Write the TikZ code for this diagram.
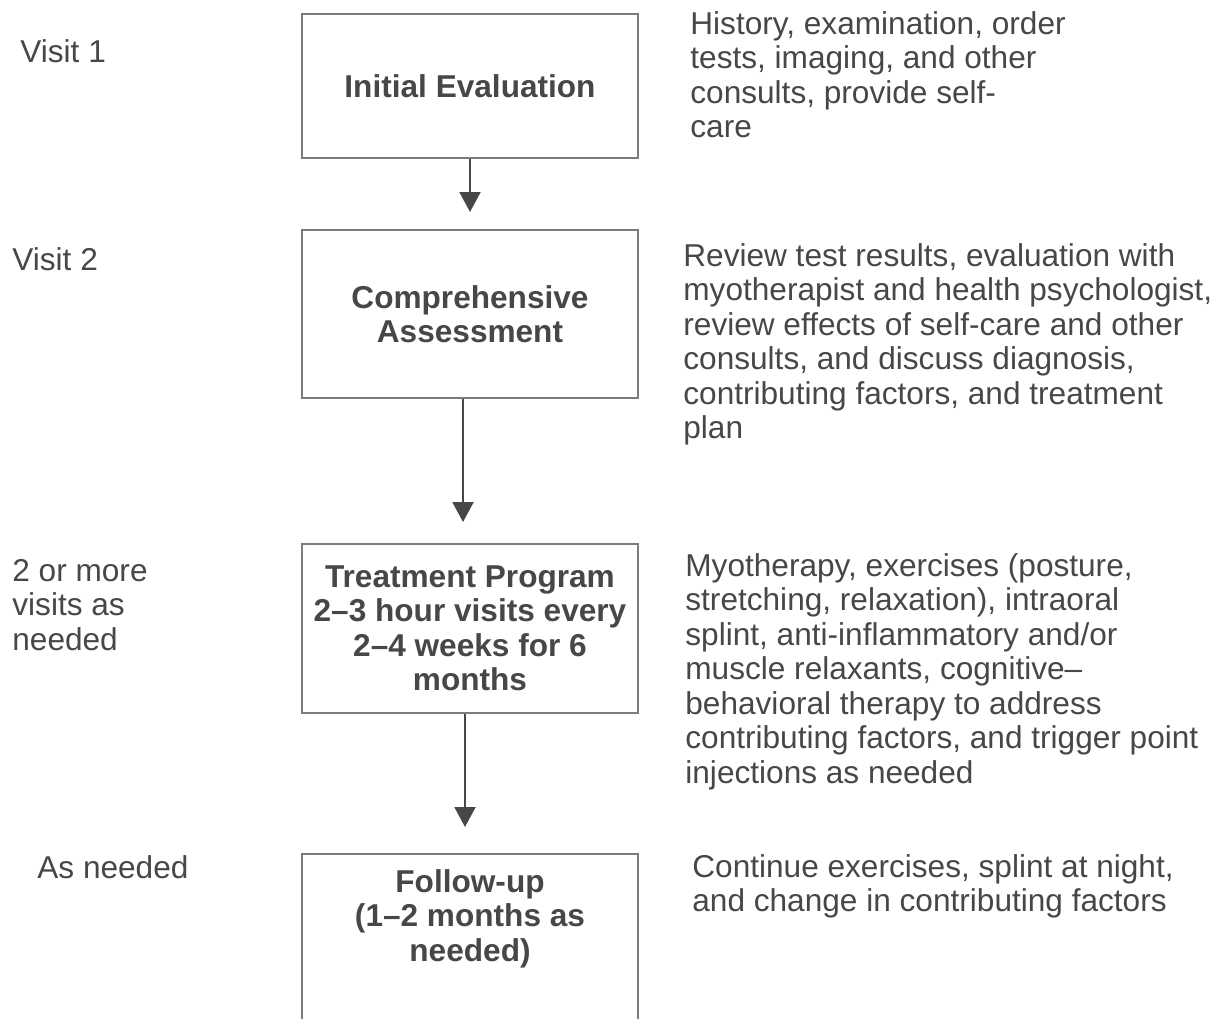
\documentclass[tikz,border=0pt]{standalone}
\usepackage{fontspec}
\setmainfont{Liberation Sans}
\usetikzlibrary{arrows.meta}
\definecolor{inkgray}{HTML}{474747}
\definecolor{framegray}{HTML}{7C7C7C}

\begin{document}
\begin{tikzpicture}[x=0.5pt, y=-0.5pt,
    every node/.style={font=\fontsize{15.8}{17.25}\selectfont, text=inkgray, inner sep=0pt},
    stagebox/.style={draw=framegray, line width=1pt, minimum width=168pt, align=center,
        font=\fontsize{15.8}{17.25}\selectfont\bfseries},
    visitlabel/.style={anchor=north west, align=left},
    notetext/.style={anchor=north west, align=left},
    flow/.style={draw=inkgray, line width=1pt, -{Triangle[width=10.5pt,length=10pt]}}]
    \useasboundingbox (0,0) rectangle (1225,1018);
    \clip (0,0) rectangle (1225,1018);

    % Stage boxes
    \node[stagebox, minimum height=72pt] (eval) at (470,86) {Initial Evaluation};
    \node[stagebox, minimum height=84pt] (assess) at (470,314) {Comprehensive\\Assessment};
    \node[stagebox, minimum height=84.5pt] (program) at (470,628.5)
        {Treatment Program\\2--3 hour visits every\\2--4 weeks for 6\\months};
    \node[stagebox, minimum height=95pt, anchor=north] (followup) at (470,853) {};
    \node[font=\fontsize{15.8}{17.25}\selectfont\bfseries, align=center, anchor=north] (followuptext)
        at (470,869) {Follow-up\\(1--2 months as\\needed)};

    % Arrows
    \draw[flow, shorten >=8.5pt] (eval.south) -- (assess.north);
    \draw[flow, shorten >=10.5pt] ([xshift=-3.5pt]assess.south) -- ([xshift=-3.5pt]program.north);
    \draw[flow, shorten >=13pt] ([xshift=-2.5pt]program.south) -- ([xshift=-2.5pt]followup.north);

    % Visit labels
    \node[visitlabel] (visit1) at (20,39) {Visit 1};
    \node[visitlabel] (visit2) at (12,247) {Visit 2};
    \node[visitlabel] (visitn) at (12,559) {2 or more\\visits as\\needed};
    \node[visitlabel] (visitx) at (37,855) {As needed};

    % Notes
    \node[notetext] (note1) at (690,11)
        {History, examination, order\\tests, imaging, and other\\consults, provide self-\\care};
    \node[notetext] (note2) at (683,243)
        {Review test results, evaluation with\\myotherapist and health psychologist,\\review effects of self-care and other\\consults, and discuss diagnosis,\\contributing factors, and treatment\\plan};
    \node[notetext] (note3) at (685,553)
        {Myotherapy, exercises (posture,\\stretching, relaxation), intraoral\\splint, anti-inflammatory and/or\\muscle relaxants, cognitive--\\behavioral therapy to address\\contributing factors, and trigger point\\injections as needed};
    \node[notetext] (note4) at (692,854)
        {Continue exercises, splint at night,\\and change in contributing factors};
\end{tikzpicture}
\end{document}
